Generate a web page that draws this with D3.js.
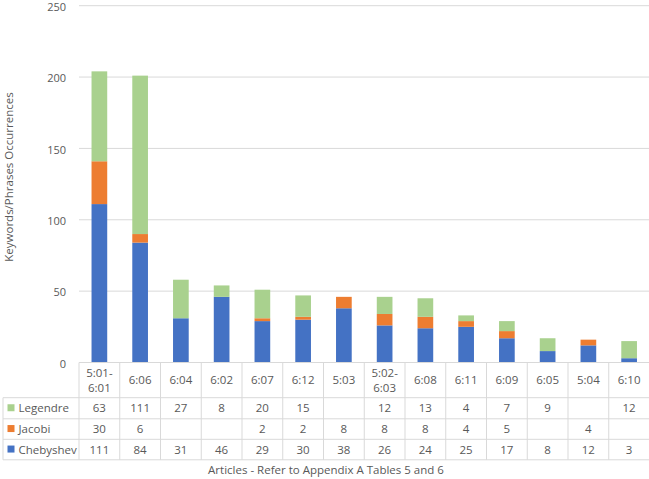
<!DOCTYPE html>
<html><head><meta charset="utf-8">
<script src="https://cdn.jsdelivr.net/npm/d3@7"></script>
<style>body{margin:0;background:#fff;} text{font-family:"Open Sans","Noto Sans",sans-serif;fill:#595959;}</style>
</head><body><svg id="c" width="649" height="479"></svg>
<script>
const categories = ["5:01-\n6:01","6:06","6:04","6:02","6:07","6:12","5:03","5:02-\n6:03","6:08","6:11","6:09","6:05","5:04","6:10"];
const chebyshev = [111,84,31,46,29,30,38,26,24,25,17,8,12,3];
const jacobi    = [30,6,null,null,2,2,8,8,8,4,5,null,4,null];
const legendre  = [63,111,27,8,20,15,null,12,13,4,7,9,null,12];
const yTicks = [0,50,100,150,200,250];
const seriesNames = ["Chebyshev","Jacobi","Legendre"];
const colors = {Chebyshev:"#4472C4",Jacobi:"#ED7D31",Legendre:"#A9D18E"};

(function(){
const svg = d3.select("#c");
const pLeft = 79, pRight = 649.5, pTop = 5.7, pBottom = 362.5;
const x = d3.scaleBand().domain(d3.range(categories.length)).range([pLeft,pRight]).paddingInner(0).paddingOuter(0);
const y = d3.scaleLinear().domain([0,250]).range([pBottom,pTop]);

svg.append("g").selectAll("line").data(yTicks.slice(1)).join("line")
  .attr("x1",pLeft).attr("x2",pRight).attr("y1",d=>y(d)).attr("y2",d=>y(d))
  .attr("stroke","#d9d9d9").attr("stroke-width",1);
const yAxis = d3.axisLeft(y).tickValues(yTicks).tickSize(0).tickPadding(13);
const ga = svg.append("g").attr("transform",`translate(${pLeft},0)`).call(yAxis);
ga.select(".domain").remove();
ga.selectAll("text").style("font-size","11px").attr("fill","#595959").style("font-family","'Open Sans'").attr("dy","0.42em");

const rows = categories.map((c,i)=>({i, Chebyshev:chebyshev[i]||0, Jacobi:jacobi[i]||0, Legendre:legendre[i]||0}));
const stack = d3.stack().keys(seriesNames)(rows);
const bw = x.bandwidth()*0.385;
svg.append("g").selectAll("g").data(stack).join("g").attr("fill",d=>colors[d.key])
  .selectAll("rect").data(d=>d).join("rect")
  .attr("x",d=>x(d.data.i)+x.bandwidth()/2-bw/2).attr("width",bw)
  .attr("y",d=>y(d[1])).attr("height",d=>y(d[0])-y(d[1]));

const tLeft = 3, hTop = 362.5, hBot = 397.7;
const rowYs = [397.7, 418.8, 439.3, 459.8];
const tableRows = [["Legendre",legendre],["Jacobi",jacobi],["Chebyshev",chebyshev]];
const tg = svg.append("g");
const bc = "#d9d9d9";
tg.append("line").attr("x1",pLeft).attr("x2",pRight).attr("y1",hTop).attr("y2",hTop).attr("stroke",bc);
rowYs.forEach(yy=>tg.append("line").attr("x1",tLeft).attr("x2",pRight).attr("y1",yy).attr("y2",yy).attr("stroke",bc));
tg.append("line").attr("x1",tLeft).attr("x2",tLeft).attr("y1",rowYs[0]).attr("y2",rowYs[3]).attr("stroke",bc);
d3.range(categories.length+1).forEach(k=>{
  const xx = pLeft + k*x.bandwidth();
  tg.append("line").attr("x1",xx).attr("x2",xx).attr("y1",hTop).attr("y2",rowYs[3]).attr("stroke",bc);
});
categories.forEach((c,i)=>{
  const lines = c.split("\n");
  const cx = x(i)+x.bandwidth()/2;
  const cy = (hTop+hBot)/2;
  const t = tg.append("text").attr("text-anchor","middle").style("font-size","11.5px");
  lines.forEach((l,k)=>{
    t.append("tspan").attr("x",cx).attr("y",cy + (k-(lines.length-1)/2)*15 + 4).text(l);
  });
});
tableRows.forEach(([name,vals],r)=>{
  const cy = (rowYs[r]+rowYs[r+1])/2 + 4;
  tg.append("rect").attr("x",7.5).attr("y",cy-8).attr("width",7).attr("height",7).attr("fill",colors[name]);
  tg.append("text").attr("x",18.5).attr("y",cy).style("font-size","11.5px").text(name);
  vals.forEach((v,i)=>{
    if(v==null) return;
    tg.append("text").attr("x",x(i)+x.bandwidth()/2).attr("y",cy).attr("text-anchor","middle").style("font-size","11.5px").text(v);
  });
});

svg.append("text").attr("transform",`translate(13,177) rotate(-90)`).attr("text-anchor","middle").style("font-size","11.5px").text("Keywords/Phrases Occurrences");
svg.append("text").attr("x",326).attr("y",474).attr("text-anchor","middle").style("font-size","11.5px").text("Articles - Refer to Appendix A Tables 5 and 6");
})();
</script></body></html>
